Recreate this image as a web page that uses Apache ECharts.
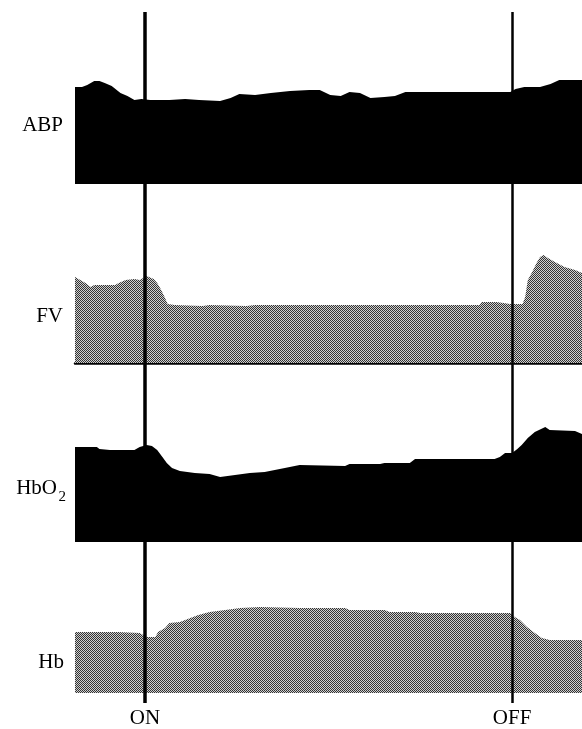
<!DOCTYPE html>
<html>
<head>
<meta charset="utf-8">
<script src="https://cdn.jsdelivr.net/npm/echarts@6/dist/echarts.min.js"></script>
<style>
html,body{margin:0;padding:0;background:#fff;}
#chart{width:582px;height:729px;}
</style>
</head>
<body>
<div id="chart"></div>
<script>
// time in seconds, amplitude in arbitrary units
var eventTimes = [40, 250];
var eventNames = ['ON', 'OFF'];
var channelNames = ['ABP', 'FV', 'HbO', 'Hb'];

var abp = [[0,97],[4,97],[7,99],[11,103],[14,103],[17,101],[21,98],[26,91],[30,88],[34,84],[38,85],[43,84],[54,84],[63,85],[71,84],[83,83],[89,86],[94,90],[103,89],[112,91],[123,93],[134,94],[140,94],[146,89],[152,88],[157,92],[163,91],[169,86],[177,87],[183,88],[189,92],[249,92],[252,95],[257,97],[266,97],[272,100],[277,104],[290,104]];

var fv = [[0,86],[2,84],[6,80],[9,76],[11,78],[23,78],[25,80],[29,83],[34,84],[37,83],[41,87],[45,84],[47,80],[49,74],[51.5,65],[53,59],[57,58],[73,57],[77,58],[98,57],[103,58],[231.5,58],[232.5,61],[241,61],[242,63],[245,60],[249,59],[256,59],[257.5,66],[259,83],[261.5,91],[264,100],[266,106],[268,108],[270.5,105],[274.5,101],[280,96],[286,93],[290,90]];

var hbo2 = [[0,95],[12.5,95],[14,93],[20,92],[34,92],[37,95],[41,97],[44,96],[47,92],[50,85],[52.5,79],[55.5,74],[60,71],[68.5,69],[77,68],[83,65],[91.5,67],[100,69],[108.5,70],[120,74],[128.5,77],[154.5,76],[157,78],[174.5,78],[177,79],[191.5,79],[194.5,83],[240,83],[243,85],[246,89],[250,89],[253,93],[255.5,97],[259,104],[263,110],[269,115],[271.5,112],[286,111],[290,108]];

var hb = [[0,61],[24.5,61],[25.5,60],[37,60],[41,56],[46,56],[47.5,61],[51.5,65],[54,70],[60,71],[66,75],[70.5,78],[77,81],[86,83],[94.5,85],[106,86],[128.5,85],[154.5,85],[157,83],[177,83],[180,81],[194.5,81],[197.5,80],[249,80],[251.5,76],[254.5,73],[258.5,66],[263,60],[267,55],[271.5,53],[290,53]];

var FONT = '"Liberation Serif","Times New Roman",serif';

// halftone pattern for grey traces
var pc = document.createElement('canvas');
pc.width = 2; pc.height = 2;
var pctx = pc.getContext('2d');
pctx.fillStyle = '#d0d0d0'; pctx.fillRect(0,0,2,2);
pctx.fillStyle = '#333333'; pctx.fillRect(0,0,1,1); pctx.fillRect(1,1,1,1);
var grey = {image: pc, repeat: 'repeat'};

var panels = [
  {data: abp, top: 59, fill: '#000', axisLine: false},
  {data: fv, top: 238, fill: grey, axisLine: true},
  {data: hbo2, top: 417, fill: '#000', axisLine: false},
  {data: hb, top: 568, fill: grey, axisLine: false}
];

var grids = [], xAxes = [], yAxes = [], series = [];
panels.forEach(function(p, i){
  grids.push({left: 75, right: 0, top: p.top, height: 125});
  xAxes.push({type: 'value', gridIndex: i, min: 0, max: 290,
    axisLine: {show: p.axisLine, lineStyle: {color: '#000', width: 2.5}},
    axisTick: {show: false}, axisLabel: {show: false}, splitLine: {show: false}});
  yAxes.push({type: 'value', gridIndex: i, min: 0, max: 125, show: false});
  series.push({type: 'line', xAxisIndex: i, yAxisIndex: i, data: p.data,
    showSymbol: false, silent: true, animation: false,
    lineStyle: {width: 0}, areaStyle: {color: p.fill, opacity: 1}, z: 2});
});

// overlay grid for ON/OFF markers
grids.push({left: 75, right: 0, top: 12, bottom: 24});
xAxes.push({type: 'value', gridIndex: 4, min: 0, max: 290,
  axisLine: {show: false}, axisTick: {show: false}, splitLine: {show: false},
  axisLabel: {show: true, customValues: eventTimes, margin: 5,
    fontFamily: FONT, fontSize: 21, color: '#000',
    formatter: function(v){ var k = eventTimes.indexOf(v); return k >= 0 ? eventNames[k] : ''; }}});
yAxes.push({type: 'value', gridIndex: 4, min: 0, max: 1, show: false});
series.push({type: 'line', xAxisIndex: 4, yAxisIndex: 4, data: [], z: 10, animation: false,
  markLine: {silent: true, symbol: ['none','none'], label: {show: false}, animation: false,
    data: [
      {xAxis: eventTimes[0], lineStyle: {color: '#000', width: 3.5, type: 'solid'}},
      {xAxis: eventTimes[1], lineStyle: {color: '#000', width: 2.5, type: 'solid'}}
    ]}});

var labelStyle = function(text, x, y, size){
  return {type: 'text', x: x, y: y, z: 20,
    style: {text: text, fontFamily: FONT, fontSize: size, fill: '#000', align: 'right', verticalAlign: 'middle'}};
};

var chart = echarts.init(document.getElementById('chart'), null, {renderer: 'canvas'});
chart.setOption({
  backgroundColor: '#fff',
  animation: false,
  grid: grids, xAxis: xAxes, yAxis: yAxes, series: series,
  graphic: [
    labelStyle(channelNames[0], 63, 125, 21),
    labelStyle(channelNames[1], 63, 316, 21),
    labelStyle(channelNames[2], 57, 488, 21),
    labelStyle('2', 66, 497, 15),
    labelStyle(channelNames[3], 64, 662, 21)
  ]
});
</script>
</body>
</html>
